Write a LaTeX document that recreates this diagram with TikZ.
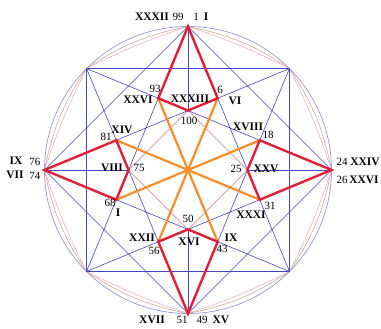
\documentclass[tikz,border=0pt]{standalone}
\usepackage{fontspec}
\setmainfont{Liberation Serif}
\usetikzlibrary{calc}
\definecolor{circ}{RGB}{150,150,205}
\definecolor{bl}{RGB}{70,70,195}
\definecolor{tanc}{RGB}{205,170,150}
\definecolor{pinkc}{RGB}{225,170,190}
\definecolor{dia}{RGB}{195,120,125}
\definecolor{rd}{RGB}{225,30,55}
\definecolor{org}{RGB}{250,140,40}
\begin{document}
\begin{tikzpicture}[x=1pt,y=1pt,
  blueline/.style={draw=bl, line width=0.6pt},
  redline/.style={draw=rd, line width=2.4pt, line join=miter},
  orangeline/.style={draw=org, line width=2.2pt},
  rn/.style={font=\fontsize{11.5}{12}\selectfont\bfseries, inner sep=0pt},
  nm/.style={font=\fontsize{11}{12}\selectfont, inner sep=0pt}]
\useasboundingbox (0,0) rectangle (381,329);
\coordinate (O) at (188,159);
\def\R{143.5}
\foreach \n/\a in {T/90,TR/45,R/0,BR/-45,B/-90,BL/-135,L/180,TL/135}
  \coordinate (\n) at ($(O)+(\a:\R)$);
\foreach \n/\a in {p1/67.5,p2/112.5,p3/157.5,p4/202.5,p5/247.5,p6/292.5,p7/337.5,p8/22.5}
  \coordinate (\n) at ($(O)+(\a:77.66)$);
\foreach \n/\a in {qT/90,qL/180,qB/270,qR/0}
  \coordinate (\n) at ($(O)+(\a:59.44)$);
% circle and arcs
\draw[circ, line width=0.7pt] (O) circle (\R);
\draw[tanc, line width=0.6pt] (T) to[bend left=11] (TR) to[bend left=11] (R) to[bend left=11] (BR) to[bend left=11] (B) to[bend left=11] (BL) to[bend left=11] (L) to[bend left=11] (TL) to[bend left=11] (T);
\draw[pinkc, line width=0.5pt] (T) to[bend left=4] (TR) to[bend left=4] (R) to[bend left=4] (BR) to[bend left=4] (B) to[bend left=4] (BL) to[bend left=4] (L) to[bend left=4] (TL) to[bend left=4] (T);
% blue lines
\draw[blueline] (TL) rectangle (BR);
\draw[blueline] (T) -- (R) -- (B) -- (L) -- cycle;
\draw[blueline] (T) -- (BR) -- (L) -- (TR) -- (B) -- (TL) -- (R) -- (BL) -- cycle;
\draw[blueline] (T) -- (qT) (B) -- (qB) (L) -- (qL) (R) -- (qR);
% inner diamond
\draw[dia, line width=0.5pt] (qT) -- (qR) -- (qB) -- (qL) -- cycle;
% orange
\draw[orangeline] (p2) -- (p6) (p1) -- (p5) (p8) -- (p4) (p3) -- (p7);
% red kites
\draw[redline] (T) -- (p1) -- (qT) -- (p2) -- cycle;
\draw[redline] (R) -- (p8) -- (qR) -- (p7) -- cycle;
\draw[redline] (B) -- (p6) -- (qB) -- (p5) -- cycle;
\draw[redline] (L) -- (p3) -- (qL) -- (p4) -- cycle;
% labels
\node[rn] (rXXXII) at (152,312) {XXXII};
\node[nm] (n99) at (178,312) {99};
\node[nm] (n1) at (196,312) {1};
\node[rn] (rIa) at (206,312) {I};
\node[nm] (n93) at (155,240) {93};
\node[rn] (rXXVIa) at (138,229) {XXVI};
\node[rn] (rXXXIII) at (190,230) {XXXIII};
\node[nm] (n100) at (189,208) {100};
\node[nm] (n6) at (220,239) {6};
\node[rn] (rVI) at (235,228) {VI};
\node[rn] (rXVIII) at (248,202) {XVIII};
\node[nm] (n18) at (268,194) {18};
\node[rn] (rXXV) at (266,160) {XXV};
\node[nm] (n25) at (236,160) {25};
\node[nm] (n24) at (342,167) {24};
\node[rn] (rXXIV) at (365,167) {XXIV};
\node[nm] (n26) at (342,149) {26};
\node[rn] (rXXVIb) at (364,149) {XXVI};
\node[nm] (n31) at (270,123) {31};
\node[rn] (rXXXI) at (251,114) {XXXI};
\node[rn] (rIXa) at (231,91) {IX};
\node[nm] (n43) at (222,80) {43};
\node[rn] (rXVI) at (189,87) {XVI};
\node[nm] (n50) at (188,110) {50};
\node[rn] (rXXII) at (142,91) {XXII};
\node[nm] (n56) at (154,78) {56};
\node[rn] (rXVII) at (152,9) {XVII};
\node[nm] (n51) at (182,9) {51};
\node[nm] (n49) at (202,9) {49};
\node[rn] (rXV) at (221,9) {XV};
\node[rn] (rIXb) at (16,168) {IX};
\node[nm] (n76) at (35,167) {76};
\node[rn] (rVII) at (15,154) {VII};
\node[nm] (n74) at (35,153) {74};
\node[nm] (n81) at (106,192) {81};
\node[rn] (rXIV) at (122,199) {XIV};
\node[rn] (rVIII) at (112,161) {VIII};
\node[nm] (n75) at (139,161) {75};
\node[nm] (n68) at (110,126) {68};
\node[rn] (rIb) at (118,116) {I};
\end{tikzpicture}
\end{document}
